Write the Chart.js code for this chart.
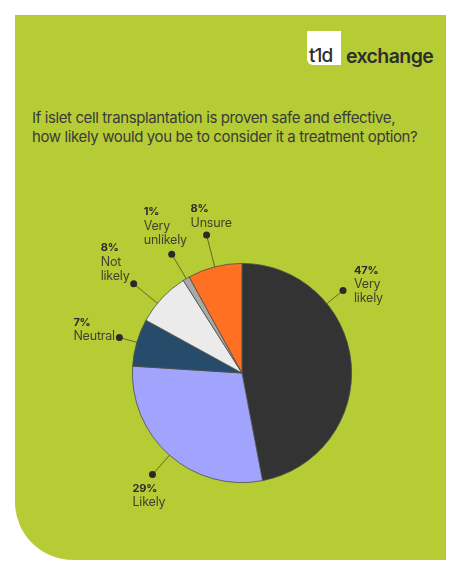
<!DOCTYPE html>
<html>
<head>
<meta charset="utf-8">
<script src="https://cdn.jsdelivr.net/npm/chart.js@4.4.1/dist/chart.umd.min.js"></script>
<style>
  html, body { margin: 0; padding: 0; background: #ffffff; }
  body { width: 461px; height: 576px; position: relative; overflow: hidden; font-family: Inter, "Noto Sans", sans-serif; }
  .panel {
    position: absolute; left: 15px; top: 15px; width: 431px; height: 545px;
    background: #b6cc34; border-bottom-left-radius: 58px;
  }
  .logo-box {
    position: absolute; left: 307px; top: 31px; width: 34px; height: 34px;
    background: #ffffff; border-radius: 1px 0 0 6px;
  }
  .logo-t1d {
    position: absolute; left: 309px; top: 45px; font-size: 19px; font-weight: 500;
    color: #2e2e2e; letter-spacing: -0.9px; line-height: 22px;
  }
  .logo-word {
    position: absolute; left: 346px; top: 44px; font-size: 19.5px; font-weight: 600;
    color: #2e2e2e; line-height: 24px; letter-spacing: -0.6px;
  }
  .title {
    position: absolute; left: 32px; top: 108px; font-size: 15px; line-height: 19px;
    color: #3a3a3a; white-space: nowrap; letter-spacing: -0.38px;
  }
  .chart-wrap { position: absolute; left: 0; top: 0; width: 461px; height: 576px; }
</style>
</head>
<body>
<div class="panel"></div>
<div class="logo-box"></div>
<div class="logo-t1d">t1d</div>
<div class="logo-word">exchange</div>
<div class="title">If islet cell transplantation is proven safe and effective,<br>how likely would you be to consider it a treatment option?</div>
<div class="chart-wrap"><canvas id="pieChart"></canvas></div>
<script>
// answers, clockwise from 12 o'clock
const categories = ['Very likely', 'Likely', 'Neutral', 'Not likely', 'Very unlikely', 'Unsure'];
const labelLines = [['Very', 'likely'], ['Likely'], ['Neutral'], ['Not', 'likely'], ['Very', 'unlikely'], ['Unsure']];
const percentages = [47, 29, 7, 8, 1, 8];
const sliceColors = ['#333333', '#a2a3fd', '#264b6b', '#ebebeb', '#a9a9a9', '#ff7022'];

// leader line placement: where on the slice, how far out the dot sits, where the text goes
const anchorFrac = [0.3, 0.5, 0.5, 0.37, 0.5, 0.5];
const dotFactor = [1.19, 1.235, 1.165, 1.28, 1.26, 1.3];
const textOffset = [[11, -20], [-20, 14], [-46, -15], [-33, -36], [-28, -42], [-16, -26]];

const calloutPlugin = {
  id: 'callouts',
  afterDatasetsDraw(chart) {
    const ctx = chart.ctx;
    const arcs = chart.getDatasetMeta(0).data;
    ctx.save();
    arcs.forEach((arc, i) => {
      const a = arc.startAngle + (arc.endAngle - arc.startAngle) * anchorFrac[i];
      const r = arc.outerRadius;
      const ex = arc.x + Math.cos(a) * r;
      const ey = arc.y + Math.sin(a) * r;
      const dx = arc.x + Math.cos(a) * r * dotFactor[i];
      const dy = arc.y + Math.sin(a) * r * dotFactor[i];

      ctx.strokeStyle = '#4a4f2a';
      ctx.lineWidth = 0.8;
      ctx.beginPath();
      ctx.moveTo(ex, ey);
      ctx.lineTo(dx, dy);
      ctx.stroke();

      ctx.fillStyle = '#2a2a2a';
      ctx.beginPath();
      ctx.arc(dx, dy, 3.5, 0, Math.PI * 2);
      ctx.fill();

      const tx = dx + textOffset[i][0];
      let ty = dy + textOffset[i][1];
      ctx.textAlign = 'left';
      ctx.textBaseline = 'middle';
      ctx.letterSpacing = '-0.2px';
      ctx.fillStyle = '#2b2b2b';
      ctx.font = '700 11px Inter, "Noto Sans", sans-serif';
      ctx.fillText(percentages[i] + '%', tx, ty);
      ctx.fillStyle = '#404332';
      ctx.font = '400 12.5px Inter, "Noto Sans", sans-serif';
      labelLines[i].forEach(line => {
        ty += 14;
        ctx.fillText(line, tx, ty);
      });
    });
    ctx.restore();
  }
};

new Chart(document.getElementById('pieChart'), {
  type: 'pie',
  data: {
    labels: categories,
    datasets: [{
      data: percentages,
      backgroundColor: sliceColors,
      borderColor: '#4d4d4d',
      borderWidth: 0.8
    }]
  },
  options: {
    responsive: true,
    maintainAspectRatio: false,
    animation: false,
    layout: {
      padding: { left: 132, right: 109, top: 263, bottom: 93 }
    },
    plugins: {
      legend: { display: false },
      tooltip: { enabled: false }
    }
  },
  plugins: [calloutPlugin]
});
</script>
</body>
</html>
